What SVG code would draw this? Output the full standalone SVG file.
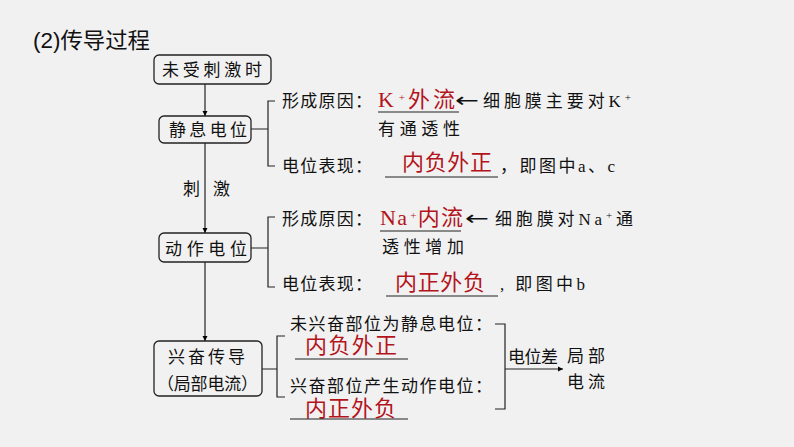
<svg xmlns="http://www.w3.org/2000/svg" width="794" height="447" viewBox="0 0 794 447">
<defs>
<marker id="ah" viewBox="0 0 10 10" refX="10" refY="5" markerWidth="5" markerHeight="7" markerUnits="userSpaceOnUse" orient="auto"><path d="M0,0 L10,5 L0,10 z" fill="#000"/></marker>
<style>
.t{font-family:"Liberation Serif","Noto Sans CJK SC",serif;font-size:17px;fill:#111}
.r{font-family:"Liberation Serif","Noto Sans CJK SC",serif;font-size:22px;fill:#b3141c}
.a{font-family:"DejaVu Sans",sans-serif;font-size:20px;fill:#111}
.b{fill:none;stroke:#222;stroke-width:1.3}
.l{fill:none;stroke:#222;stroke-width:1.2}
.u{stroke:#222;stroke-width:1.2}
.s{font-size:11px}
</style>
</defs>
<rect width="794" height="447" fill="#f1f1f1"/>
<text x="33" y="48" font-family="Liberation Sans,'Noto Sans CJK SC',sans-serif" font-size="22" fill="#111" textLength="117" lengthAdjust="spacingAndGlyphs">(2)传导过程</text>

<g id="n1"><rect class="b" x="154" y="55" width="117" height="29" rx="5"/><text class="t" x="162" y="76" font-size="18" textLength="100">未受刺激时</text></g>
<g id="n2"><rect class="b" x="159" y="116" width="92" height="27" rx="5"/><text class="t" x="169" y="136" font-size="18" textLength="78">静息电位</text></g>
<g id="n3"><rect class="b" x="159" y="233" width="92" height="29" rx="5"/><text class="t" x="165" y="255" font-size="18" textLength="82">动作电位</text></g>
<g id="n4"><rect class="b" x="154" y="341" width="108" height="55" rx="5"/><text class="t" x="168" y="363" font-size="18" textLength="77">兴奋传导</text><text class="t" x="157" y="390" font-size="18" textLength="101">（局部电流）</text></g>

<g id="connectors">
<line class="l" x1="205" y1="84" x2="205" y2="116" marker-end="url(#ah)"/>
<line class="l" x1="205" y1="143" x2="205" y2="233" marker-end="url(#ah)"/>
<line class="l" x1="205" y1="262" x2="205" y2="341" marker-end="url(#ah)"/>
<path class="l" d="M251,129 H268 M275,101 H268 V166 H275"/>
<path class="l" d="M251,248 H268 M275,217 H268 V287 H275"/>
<path class="l" d="M262,369 H277 M285,336 H277 V397 H285"/>
<path class="l" d="M495,324 H505 V409 H495"/>
<line class="l" x1="505" y1="369" x2="563" y2="369" marker-end="url(#ah)"/>
</g>

<g id="labels">
<text class="t" x="183" y="195" font-size="16">刺</text>
<text class="t" x="213" y="195" font-size="16">激</text>

<text class="t" x="282" y="107" textLength="90">形成原因：</text>
<text class="r" x="378" y="107" textLength="77">K<tspan class="s" baseline-shift="super" dx="2">+</tspan>外流</text>
<line class="u" x1="378" y1="112" x2="459" y2="112"/>
<text class="a" x="455" y="107" textLength="24" lengthAdjust="spacingAndGlyphs">←</text>
<text class="t" x="483" y="107" textLength="148">细胞膜主要对K<tspan class="s" baseline-shift="super">+</tspan></text>
<text class="t" x="378" y="135" textLength="82">有通透性</text>
<text class="t" x="282" y="172" textLength="90">电位表现：</text>
<text class="r" x="402" y="170" textLength="90">内负外正</text>
<line class="u" x1="385" y1="177" x2="498" y2="177"/>
<text class="t" x="500" y="172" textLength="115">，即图中a、c</text>

<text class="t" x="282" y="225" textLength="90">形成原因：</text>
<text class="r" x="380" y="225" textLength="83">Na<tspan class="s" baseline-shift="super" dx="2">+</tspan>内流</text>
<line class="u" x1="380" y1="231" x2="461" y2="231"/>
<text class="a" x="465" y="225" textLength="24" lengthAdjust="spacingAndGlyphs">←</text>
<text class="t" x="495" y="225" textLength="138">细胞膜对Na<tspan class="s" baseline-shift="super">+</tspan>通</text>
<text class="t" x="382" y="253" textLength="82">透性增加</text>
<text class="t" x="282" y="290" textLength="90">电位表现：</text>
<text class="r" x="395" y="290" textLength="90">内正外负</text>
<line class="u" x1="386" y1="296" x2="498" y2="296"/>
<text class="t" x="500" y="290" textLength="85">, 即图中b</text>

<text class="t" x="290" y="330" textLength="202">未兴奋部位为静息电位：</text>
<text class="r" x="305" y="353" textLength="92">内负外正</text>
<line class="u" x1="295" y1="359" x2="408" y2="359"/>
<text class="t" x="290" y="392" textLength="202">兴奋部位产生动作电位：</text>
<text class="r" x="305" y="416" font-size="21" textLength="91">内正外负</text>
<line class="u" x1="290" y1="419" x2="408" y2="419"/>
<text class="t" x="508" y="363" font-size="15" textLength="50">电位差</text>
<text class="t" x="567" y="362" font-size="19" textLength="38">局部</text>
<text class="t" x="567" y="388" font-size="19" textLength="38">电流</text>
</g>
</svg>
